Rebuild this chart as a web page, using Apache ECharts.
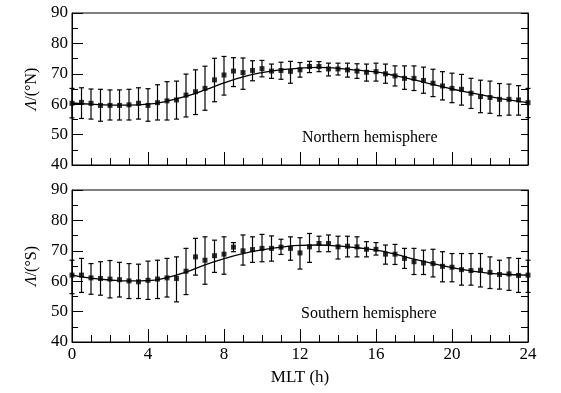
<!DOCTYPE html>
<html><head><meta charset="utf-8">
<script src="https://cdn.jsdelivr.net/npm/echarts@6/dist/echarts.min.js"></script>
<style>html,body{margin:0;padding:0;background:#fff}#c{width:561px;height:393px}</style>
</head><body><div id="c"></div>
<script>
// MLT (h), half-hour bins
const mlt = [0,0.5,1,1.5,2,2.5,3,3.5,4,4.5,5,5.5,6,6.5,7,7.5,8,8.5,9,9.5,10,10.5,11,11.5,12,12.5,13,13.5,14,14.5,15,15.5,16,16.5,17,17.5,18,18.5,19,19.5,20,20.5,21,21.5,22,22.5,23,23.5,24];
// Northern hemisphere
const northMean = [60.3,60.6,60.3,59.6,59.6,59.6,59.8,60.3,59.6,60.5,61.1,61.4,63.0,64.1,65.2,68.0,69.6,70.9,70.4,71.1,71.7,70.9,71.1,70.8,71.3,72.4,72.4,71.6,71.6,71.3,70.9,70.5,70.7,70.0,69.3,68.5,68.5,67.8,66.9,66.0,65.2,64.9,63.6,62.5,62.2,61.6,61.6,61.4,60.5];
const northHi = [65.2,65.4,65.0,64.9,64.7,64.7,64.9,65.4,65.1,66.4,67.4,67.6,69.9,71.3,72.5,75.1,75.7,75.3,75.2,74.3,74.4,73.2,73.8,74.1,73.7,74.1,74.0,73.5,73.5,73.5,73.3,73.2,73.5,73.2,72.6,72.6,72.6,72.2,71.5,70.7,70.2,69.8,68.5,67.9,67.6,66.8,66.6,66.1,65.2];
const northLo = [55.5,55.3,55.1,54.4,54.8,54.8,54.8,55.1,54.4,54.8,54.8,55.1,55.8,56.6,58.0,60.8,63.0,65.8,64.9,67.7,69.0,68.5,68.2,66.9,68.9,70.4,70.7,69.3,69.6,68.9,68.5,67.6,67.6,66.9,66.0,64.9,64.5,63.6,62.5,61.4,60.5,59.7,58.6,57.2,57.0,56.2,56.4,56.4,55.6];
// Southern hemisphere
const southMean = [62.0,62.0,61.1,60.9,60.7,60.5,60.1,59.8,60.3,60.7,61.1,60.9,63.3,68.0,66.9,68.4,68.9,71.2,70.0,70.4,70.8,70.8,71.2,70.8,69.3,71.3,72.4,72.4,71.3,71.5,71.3,70.5,70.5,68.9,68.9,67.5,66.4,66.0,65.8,64.9,64.6,63.8,63.5,63.6,62.9,62.2,62.4,61.9,62.0];
const southHi = [66.9,67.5,65.8,66.4,66.8,66.2,65.8,65.6,66.6,66.9,67.5,68.0,70.8,74.1,74.6,73.5,74.6,72.7,75.2,74.6,75.4,74.9,73.8,74.6,74.3,75.7,74.8,75.2,74.8,74.8,74.6,73.0,72.7,71.9,72.1,70.8,70.8,70.2,70.5,69.7,69.1,69.1,69.1,69.1,68.0,66.9,67.7,67.5,66.9];
const southLo = [55.9,56.3,55.7,55.4,54.5,54.8,54.3,54.3,54.0,54.3,54.8,53.2,55.6,62.0,59.0,62.9,62.3,69.7,65.3,66.2,66.4,66.6,68.8,66.9,64.0,66.2,69.7,69.7,67.3,68.0,68.0,68.0,68.6,65.6,65.5,64.2,62.2,62.2,61.4,59.8,59.8,58.7,58.7,58.1,57.6,57.4,57.0,56.3,56.3];
// Fitted curves, hourly
const fitHours = [0,1,2,3,4,5,6,7,8,9,10,11,12,13,14,15,16,17,18,19,20,21,22,23,24];
const northFit = [60.4,60.0,59.7,59.7,60.0,61.0,62.6,64.7,67.0,69.0,70.4,71.3,71.9,72.1,71.8,71.2,70.6,69.4,68.0,66.5,65.0,63.7,62.5,61.4,60.5];
const southFit = [62.0,61.0,60.4,60.1,60.2,61.2,63.0,65.4,67.4,69.1,70.3,71.2,71.8,71.9,71.6,71.0,70.2,68.9,67.3,65.8,64.5,63.4,62.6,62.2,62.0];
const xTicks = [0,4,8,12,16,20,24];
const yTicks = [40,50,60,70,80,90];

const FONT = 'Liberation Serif';
const pair = (xs, ys) => xs.map((x, i) => [x, ys[i]]);
const errData = (lo, hi) => mlt.map((x, i) => [x, lo[i], hi[i]]);

function errRender(params, api) {
  const x = api.value(0);
  const p1 = api.coord([x, api.value(1)]);
  const p2 = api.coord([x, api.value(2)]);
  const w = 2.5;
  const st = {stroke: '#000', lineWidth: 1.2};
  return {type: 'group', children: [
    {type: 'line', shape: {x1: p1[0], y1: p1[1], x2: p2[0], y2: p2[1]}, style: st},
    {type: 'line', shape: {x1: p1[0]-w, y1: p1[1], x2: p1[0]+w, y2: p1[1]}, style: st},
    {type: 'line', shape: {x1: p2[0]-w, y1: p2[1], x2: p2[0]+w, y2: p2[1]}, style: st}
  ]};
}

function xAxis(gi, showLabels, name) {
  return {
    type: 'value', gridIndex: gi, min: 0, max: 24, interval: 4,
    axisLine: {show: true, lineStyle: {color: '#000', width: 1}},
    axisTick: {show: true, inside: true, length: 13, lineStyle: {color: '#000', width: 1}},
    minorTick: {show: true, splitNumber: 4, length: 7, lineStyle: {color: '#000', width: 1}},
    splitLine: {show: false},
    axisLabel: {show: showLabels, color: '#000', fontFamily: FONT, fontSize: 17, margin: 4,
      formatter: v => xTicks.includes(v) ? String(v) : ''},
    name: name, nameLocation: 'middle', nameGap: 27,
    nameTextStyle: {color: '#000', fontFamily: FONT, fontSize: 17}
  };
}
function yLeft(gi, hemi) {
  return {
    type: 'value', gridIndex: gi, min: 40, max: 90, interval: 10, position: 'left',
    axisLine: {show: true, lineStyle: {color: '#000', width: 1}},
    axisTick: {show: true, inside: true, length: 11, lineStyle: {color: '#000', width: 1}},
    minorTick: {show: true, splitNumber: 2, length: 6, lineStyle: {color: '#000', width: 1}},
    splitLine: {show: false},
    axisLabel: {color: '#000', fontFamily: FONT, fontSize: 17, margin: 4,
      formatter: v => yTicks.includes(v) ? String(v) : ''},
    name: '{i|Λ}/(°' + hemi + ')', nameLocation: 'middle', nameRotate: 90, nameGap: 30,
    nameTextStyle: {color: '#000', fontFamily: FONT, fontSize: 16,
      rich: {i: {fontStyle: 'italic', fontFamily: FONT, fontSize: 16, color: '#000'}}}
  };
}
function yRight(gi) {
  return {
    type: 'value', gridIndex: gi, min: 40, max: 90, interval: 5, position: 'right',
    axisLine: {show: true, lineStyle: {color: '#000', width: 1}},
    axisTick: {show: true, inside: true, length: 7, lineStyle: {color: '#000', width: 1}},
    splitLine: {show: false}, axisLabel: {show: false}
  };
}

const chart = echarts.init(document.getElementById('c'), null, {renderer: 'canvas'});
chart.setOption({
  backgroundColor: '#fff',
  animation: false,
  grid: [
    {left: 72, top: 13, width: 456, height: 152, show: true, borderColor: '#000', borderWidth: 1},
    {left: 72, top: 190, width: 456, height: 152, show: true, borderColor: '#000', borderWidth: 1}
  ],
  xAxis: [xAxis(0, false, ''), xAxis(1, true, 'MLT (h)')],
  yAxis: [yLeft(0, 'N'), yRight(0), yLeft(1, 'S'), yRight(1)],
  graphic: [
    {type: 'text', left: 302, top: 130, style: {text: 'Northern hemisphere', fill: '#000', font: '16px "Liberation Serif"'}},
    {type: 'text', left: 301, top: 306, style: {text: 'Southern hemisphere', fill: '#000', font: '16px "Liberation Serif"'}}
  ],
  series: [
    {type: 'custom', xAxisIndex: 0, yAxisIndex: 0, renderItem: errRender, data: errData(northLo, northHi), z: 2},
    {type: 'line', xAxisIndex: 0, yAxisIndex: 0, data: pair(fitHours, northFit), smooth: true, symbol: 'none',
      lineStyle: {color: '#000', width: 1.3}, z: 3},
    {type: 'scatter', xAxisIndex: 0, yAxisIndex: 0, data: pair(mlt, northMean), symbol: 'rect', symbolSize: 5,
      itemStyle: {color: '#000'}, z: 4},
    {type: 'custom', xAxisIndex: 1, yAxisIndex: 2, renderItem: errRender, data: errData(southLo, southHi), z: 2},
    {type: 'line', xAxisIndex: 1, yAxisIndex: 2, data: pair(fitHours, southFit), smooth: true, symbol: 'none',
      lineStyle: {color: '#000', width: 1.3}, z: 3},
    {type: 'scatter', xAxisIndex: 1, yAxisIndex: 2, data: pair(mlt, southMean), symbol: 'rect', symbolSize: 5,
      itemStyle: {color: '#000'}, z: 4}
  ]
});
</script></body></html>
